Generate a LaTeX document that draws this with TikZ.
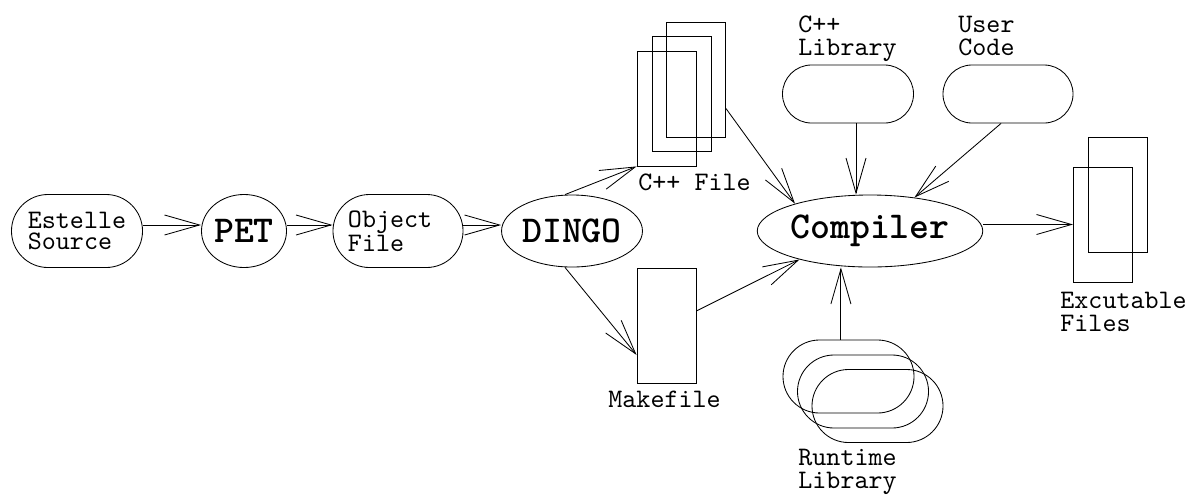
\documentclass[tikz,border=0pt]{standalone}
\usepackage{fontspec}
\setmonofont{lmmono10-regular.otf}[BoldFont=lmmonolt10-bold.otf]
\usetikzlibrary{positioning}
\usetikzlibrary{calc}
\usetikzlibrary{shapes.geometric, shapes.misc}
\usetikzlibrary{arrows.meta}

\begin{document}
\begin{tikzpicture}[x=0.025cm, y=-0.025cm, line width=0.6pt,
                >={Straight Barb[length=0.875cm, width=0.5cm]},
                blobnode/.style={rounded rectangle, draw, inner sep=0, align=left, font=\fontsize{19}{15.6}\selectfont\ttfamily},
                ovalnode/.style={ellipse, draw, inner sep=0, font=\fontsize{27}{30}\selectfont\ttfamily\bfseries},
                filenode/.style={rectangle, draw, inner sep=0, minimum width=1.475cm, minimum height=2.875cm},
                labelnode/.style={inner sep=0, anchor=base west, align=left, font=\fontsize{19}{16.3}\selectfont\ttfamily},
                ]
    \useasboundingbox (0,0) rectangle (1188,495);

    \node[blobnode, minimum width=3.275cm, minimum height=1.825cm] (estelle) at (77,231) {Estelle\\Source};
    \node[ovalnode, minimum width=2.125cm, minimum height=1.825cm] (pet) at (244,231) {PET};
    \node[blobnode, minimum width=3.25cm, minimum height=1.825cm, text width=2.5cm] (object) at (398,231) {Object\\File};
    \node[ovalnode, minimum width=3.25cm, minimum height=1.8cm] (dingo) at (572,231) {DINGO};
    \node[ovalnode, minimum width=4.375cm, minimum height=1.8cm] (compiler) at (870,231) {Compiler};

    \node[blobnode, minimum width=3.275cm, minimum height=1.45cm] (cpplib) at (848,94) {};
    \node[blobnode, minimum width=3.25cm, minimum height=1.45cm] (usercode) at (1008,94) {};
    \node[blobnode, minimum width=3.275cm, minimum height=1.825cm] (rt1) at (848.5,376.5) {};
    \node[blobnode, minimum width=3.275cm, minimum height=1.825cm] (rt2) at (863,391.5) {};
    \node[blobnode, minimum width=3.275cm, minimum height=1.825cm] (rt3) at (877.5,406) {};

    \node[filenode] (cf1) at (666.5,108.5) {};
    \node[filenode] (cf2) at (681.5,94) {};
    \node[filenode] (cf3) at (696,79.5) {};
    \node[filenode] (makefile) at (666.5,326) {};
    \node[filenode] (exe1) at (1103,224.5) {};
    \node[filenode] (exe2) at (1117.5,195) {};

    \node[labelnode] (cppfilelabel) at (638,190) {C++ File};
    \node[labelnode] (makefilelabel) at (608,407) {Makefile};
    \node[labelnode] (cpplibabel) at (798,55) {C++\\Library};
    \node[labelnode] (usercodelabel) at (958,55) {User\\Code};
    \node[labelnode] (runtimelabel) at (798,488) {Runtime\\Library};
    \node[labelnode] (exelabel) at (1060,331) {Excutable\\Files};

    \draw[->] ([yshift=0.15cm]estelle.east) -- ([yshift=0.15cm]pet.west);
    \draw[->] ([yshift=0.15cm]pet.east) -- ([yshift=0.15cm]object.west);
    \draw[->] ([yshift=0.15cm]object.east) -- ([yshift=0.15cm]dingo.west);
    \draw[->] ([xshift=-0.175cm]dingo.north) -- (cf1.south west);
    \draw[->] ([xshift=-0.175cm]dingo.south) -- ($(makefile.south west)!0.25!(makefile.north west)$);
    \draw[->] ($(cf3.north east)!0.75!(cf3.south east)$) -- (compiler.160);
    \draw[->] ($(makefile.north east)!0.37!(makefile.south east)$) -- (compiler.202);
    \draw[->] ([xshift=0.2cm]cpplib.south) -- ([xshift=0.2cm]cpplib.south |- compiler.north);
    \draw[->] ([xshift=-0.175cm]usercode.south) -- (compiler.37);
    \draw[->] ([xshift=-0.19cm]rt1.north) -- ([xshift=-0.19cm]rt1.north |- compiler.south);
    \draw[->] (compiler.east |- exe1.west) -- (exe1.west);
\end{tikzpicture}
\end{document}
